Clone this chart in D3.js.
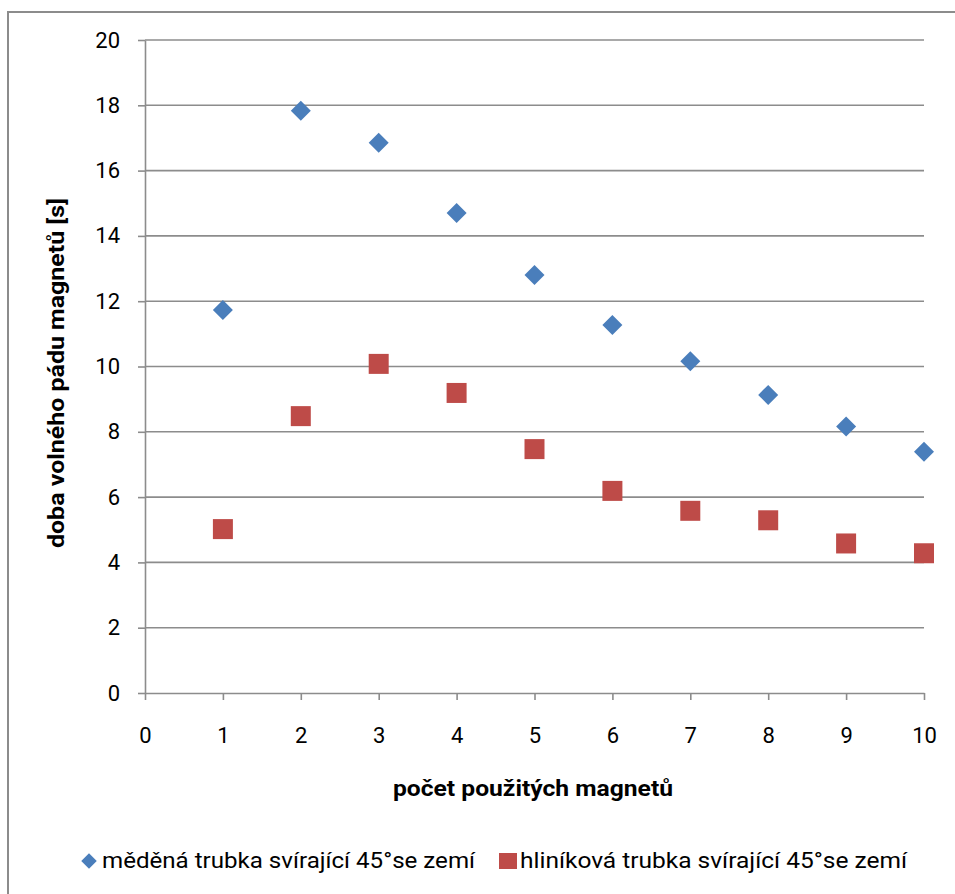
<!DOCTYPE html>
<html>
<head>
<meta charset="utf-8">
<script src="https://cdn.jsdelivr.net/npm/d3@7"></script>
<style>
	body { margin: 0; background: #fff; }
	svg { display: block; }
	text { font-family: "Roboto", "Open Sans", sans-serif; fill: #000; }
</style>
</head>
<body>
<div id="chart"></div>
<script>

// data: number of magnets vs fall time [s]
var magnets = [1, 2, 3, 4, 5, 6, 7, 8, 9, 10];
var copperTimes = [11.73, 17.83, 16.85, 14.70, 12.80, 11.27, 10.16, 9.13, 8.16, 7.39];
var aluminiumTimes = [5.02, 8.48, 10.08, 9.19, 7.47, 6.19, 5.58, 5.29, 4.58, 4.28];
var xTicks = [0, 1, 2, 3, 4, 5, 6, 7, 8, 9, 10];
var yTicks = [0, 2, 4, 6, 8, 10, 12, 14, 16, 18, 20];
var seriesNames = ["měděná trubka svírající 45°se zemí", "hliníková trubka svírající 45°se zemí"];
var xTitle = "počet použitých magnetů";
var yTitle = "doba volného pádu magnetů [s]";

var width = 955, height = 894;
var plot = { left: 145, right: 924, top: 40, bottom: 693 };
var gridColor = "#8c8c8c";
var blue = "#4a7ebb", red = "#be4b48";

var svg = d3.select("#chart").append("svg")
	.attr("width", width)
	.attr("height", height);

// outer chart border (runs off the right/bottom edges)
svg.append("rect")
	.attr("x", 8).attr("y", 12)
	.attr("width", 980).attr("height", 920)
	.attr("fill", "none")
	.attr("stroke", gridColor)
	.attr("stroke-width", 2);

var xScale = d3.scaleLinear().domain([0, 10]).range([plot.left, plot.right]);
var yScale = d3.scaleLinear().domain([0, 20]).range([plot.bottom, plot.top]);

// horizontal gridlines
svg.append("g").selectAll("line")
	.data(yTicks.filter(function(d){ return d > 0; }))
	.enter().append("line")
		.attr("x1", plot.left).attr("x2", plot.right)
		.attr("y1", function(d){ return yScale(d); })
		.attr("y2", function(d){ return yScale(d); })
		.attr("stroke", gridColor)
		.attr("stroke-width", 1.6);

// Y axis
var yAxis = d3.axisLeft(yScale)
	.tickValues(yTicks)
	.tickSizeInner(7)
	.tickSizeOuter(0)
	.tickPadding(18);

var gy = svg.append("g")
	.attr("class", "y axis")
	.attr("transform", "translate(" + plot.left + ",0)")
	.call(yAxis);

// X axis
var xAxis = d3.axisBottom(xScale)
	.tickValues(xTicks)
	.tickSizeInner(7)
	.tickSizeOuter(0)
	.tickPadding(27);

var gx = svg.append("g")
	.attr("class", "x axis")
	.attr("transform", "translate(0," + plot.bottom + ")")
	.call(xAxis);

[gx, gy].forEach(function(g){
	g.select(".domain").attr("stroke", gridColor).attr("stroke-width", 1.6);
	g.selectAll(".tick line").attr("stroke", gridColor).attr("stroke-width", 1.6);
	g.selectAll(".tick text")
		.attr("fill", "#000")
		.style("font-family", "Roboto, sans-serif")
		.style("font-size", "22px");
});

// axis titles
svg.append("text")
	.text(xTitle)
	.attr("x", 393)
	.attr("y", 796)
	.attr("textLength", 280)
	.attr("lengthAdjust", "spacingAndGlyphs")
	.style("font-size", "22px")
	.style("font-weight", "bold");

svg.append("text")
	.text(yTitle)
	.attr("text-anchor", "middle")
	.attr("transform", "translate(64,373) rotate(-90)")
	.attr("textLength", 350)
	.attr("lengthAdjust", "spacingAndGlyphs")
	.style("font-size", "22px")
	.style("font-weight", "bold");

// copper series: diamonds
var diamond = d3.symbol().type(d3.symbolSquare).size(200);
svg.append("g").selectAll("path")
	.data(magnets).enter()
	.append("path")
		.attr("d", diamond)
		.attr("fill", blue)
		.attr("transform", function(d, i){
			return "translate(" + xScale(d) + "," + yScale(copperTimes[i]) + ") rotate(45)";
		});

// aluminium series: squares
var square = d3.symbol().type(d3.symbolSquare).size(400);
svg.append("g").selectAll("path")
	.data(magnets).enter()
	.append("path")
		.attr("d", square)
		.attr("fill", red)
		.attr("transform", function(d, i){
			return "translate(" + xScale(d) + "," + yScale(aluminiumTimes[i]) + ")";
		});

// legend
var legend = svg.append("g").attr("transform", "translate(0,861)");

legend.append("path")
	.attr("d", d3.symbol().type(d3.symbolSquare).size(120))
	.attr("fill", blue)
	.attr("transform", "translate(89,0) rotate(45)");
legend.append("text")
	.text(seriesNames[0])
	.attr("x", 102).attr("y", 7)
	.attr("textLength", 373)
	.attr("lengthAdjust", "spacingAndGlyphs")
	.style("font-size", "22px");

legend.append("rect")
	.attr("x", 499).attr("y", -8)
	.attr("width", 18).attr("height", 16)
	.attr("fill", red);
legend.append("text")
	.text(seriesNames[1])
	.attr("x", 520).attr("y", 7)
	.attr("textLength", 387)
	.attr("lengthAdjust", "spacingAndGlyphs")
	.style("font-size", "22px");

</script>
</body>
</html>
